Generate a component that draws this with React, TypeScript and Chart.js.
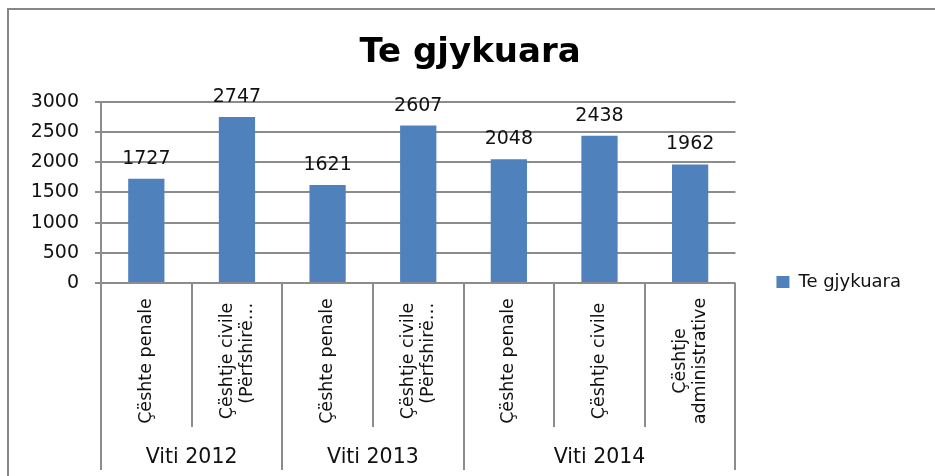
import React, { useEffect, useRef } from 'react';
import { Chart, registerables } from 'chart.js';

Chart.register(...registerables);

// ---- data ----
const categoryLines: string[][] = [
  ['Çështe penale'],
  ['Çështje civile', '(Përfshirë…'],
  ['Çështe penale'],
  ['Çështje civile', '(Përfshirë…'],
  ['Çështe penale'],
  ['Çështje civile'],
  ['Çështje', 'administrative'],
];
const groupLabels = ['Viti 2012', 'Viti 2013', 'Viti 2014'];
const groupSizes = [2, 2, 3];
const values = [1727, 2747, 1621, 2607, 2048, 2438, 1962];
const seriesName = 'Te gjykuara';
const chartTitle = 'Te gjykuara';
const yMin = 0;
const yMax = 3000;
const yStep = 500;

// ---- style ----
const FONT = '"DejaVu Sans", sans-serif';
const BAR = '#4f81bd';
const GRID = '#8c8c8c';
const TEXT = '#111111';

const multiAxisPlugin = {
  id: 'multiAxis',
  afterDraw(chart: any) {
    const x = chart.scales.x;
    const ctx = chart.ctx as CanvasRenderingContext2D;
    const n = categoryLines.length;
    const half = (x.getPixelForValue(1) - x.getPixelForValue(0)) / 2;
    const top = x.top;
    const outer = new Set<number>([0]);
    let acc = 0;
    groupSizes.forEach((s) => {
      acc += s;
      outer.add(acc);
    });
    ctx.save();
    ctx.strokeStyle = GRID;
    ctx.lineWidth = 2;
    for (let i = 0; i <= n; i++) {
      const px = Math.round(i < n ? x.getPixelForValue(i) - half : x.getPixelForValue(n - 1) + half);
      const bottom = outer.has(i) ? top + 187 : top + 144;
      ctx.beginPath();
      ctx.moveTo(px, top);
      ctx.lineTo(px, bottom);
      ctx.stroke();
    }
    // category labels, rotated
    ctx.fillStyle = TEXT;
    ctx.font = `17.5px ${FONT}`;
    ctx.textBaseline = 'middle';
    const lh = 20;
    categoryLines.forEach((lines, i) => {
      const cx = x.getPixelForValue(i);
      const cy = top + 78;
      const maxW = Math.max(...lines.map((l) => ctx.measureText(l).width));
      ctx.save();
      ctx.translate(cx, cy);
      ctx.rotate(-Math.PI / 2);
      lines.forEach((line, j) => {
        const off = (j - (lines.length - 1) / 2) * lh;
        if (line.endsWith('…')) {
          ctx.textAlign = 'right';
          ctx.fillText(line, maxW / 2, off);
        } else {
          ctx.textAlign = 'center';
          ctx.fillText(line, 0, off);
        }
      });
      ctx.restore();
    });
    // group labels
    ctx.font = `20.5px ${FONT}`;
    ctx.textAlign = 'center';
    ctx.textBaseline = 'alphabetic';
    let start = 0;
    groupLabels.forEach((g, gi) => {
      const end = start + groupSizes[gi] - 1;
      const gx = (x.getPixelForValue(start) + x.getPixelForValue(end)) / 2;
      ctx.fillText(g, gx, top + 180);
      start += groupSizes[gi];
    });
    ctx.restore();
  },
};

const valueLabelPlugin = {
  id: 'valueLabels',
  afterDatasetsDraw(chart: any) {
    const ctx = chart.ctx as CanvasRenderingContext2D;
    const meta = chart.getDatasetMeta(0);
    ctx.save();
    ctx.fillStyle = TEXT;
    ctx.font = `19px ${FONT}`;
    ctx.textAlign = 'center';
    ctx.textBaseline = 'alphabetic';
    meta.data.forEach((bar: any, i: number) => {
      ctx.fillText(String(values[i]), bar.x, bar.y - 15);
    });
    ctx.restore();
  },
};

export default function App() {
  const ref = useRef<HTMLCanvasElement>(null);
  useEffect(() => {
    const chart = new Chart(ref.current as HTMLCanvasElement, {
      type: 'bar',
      data: {
        labels: categoryLines.map((l) => l.join(' ')),
        datasets: [
          {
            label: seriesName,
            data: values,
            backgroundColor: BAR,
            borderWidth: 0,
            categoryPercentage: 1,
            barPercentage: 0.4,
          },
        ],
      },
      options: {
        responsive: false,
        animation: false,
        events: [],
        layout: { padding: { top: 0, left: 20, right: 24, bottom: 144 } },
        plugins: {
          title: {
            display: true,
            text: chartTitle,
            color: '#000',
            font: { family: FONT, size: 34, weight: 'bold', lineHeight: 1.2 },
            padding: { top: 23, bottom: 28 },
          },
          legend: {
            position: 'right',
            align: 'end',
            labels: {
              boxWidth: 13,
              boxHeight: 12,
              padding: 41,
              color: TEXT,
              font: { family: FONT, size: 18 },
            },
          },
          tooltip: { enabled: false },
        },
        scales: {
          x: {
            grid: { display: false },
            ticks: { display: false },
            border: { display: false },
            afterFit: (s: any) => {
              s.height = 49;
            },
          },
          y: {
            min: yMin,
            max: yMax,
            ticks: {
              stepSize: yStep,
              color: TEXT,
              padding: 16,
              font: { family: FONT, size: 19 },
              callback: (v: any) => String(v),
            },
            grid: { color: GRID, lineWidth: 2, tickLength: 6 },
            border: { color: GRID, width: 2 },
            afterFit: (s: any) => {
              s.width = 72;
            },
          },
        },
      },
      plugins: [multiAxisPlugin, valueLabelPlugin],
    } as any);
    return () => chart.destroy();
  }, []);
  return (
    <div
      style={{
        position: 'fixed',
        left: 7,
        top: 8,
        width: 928,
        height: 468,
        boxSizing: 'border-box',
        borderTop: '2px solid #868686',
        borderLeft: '2px solid #868686',
        background: '#fff',
      }}
    >
      <canvas ref={ref} width={926} height={466} style={{ display: 'block' }} />
    </div>
  );
}
